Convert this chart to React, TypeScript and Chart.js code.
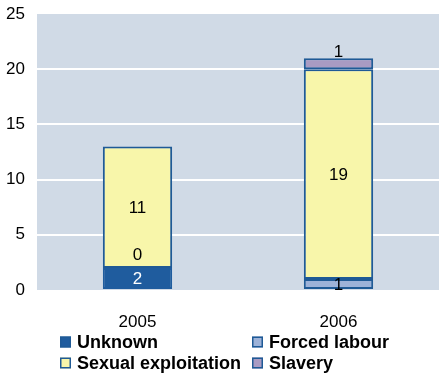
import React, { useEffect, useRef } from "react";
import { Chart, registerables } from "chart.js";

Chart.register(...registerables);

const categories = ["2005", "2006"];
const seriesNames = ["Unknown", "Forced labour", "Sexual exploitation", "Slavery"];
const unknownValues: (number | null)[] = [2, null];
const forcedLabourValues: (number | null)[] = [0, 1];
const sexualExploitationValues: (number | null)[] = [11, 19];
const slaveryValues: (number | null)[] = [null, 1];
const yTicks = [0, 5, 10, 15, 20, 25];

const FONT = "'Liberation Sans', Arial, sans-serif";
const BORDER = "#1f5a96";
const colors = ["#1f5c9e", "#9db2d8", "#f8f6aa", "#a99bc3"];
const labelColors = ["#ffffff", "#000000", "#000000", "#000000"];

const bgPlugin = {
  id: "plotBg",
  beforeDraw(chart: any) {
    const { ctx, chartArea } = chart;
    ctx.save();
    ctx.fillStyle = "#d0dae6";
    ctx.fillRect(chartArea.left, chartArea.top, chartArea.right - chartArea.left, chartArea.bottom - chartArea.top);
    ctx.restore();
  },
};

const labelPlugin = {
  id: "barLabels",
  afterDatasetsDraw(chart: any) {
    const { ctx } = chart;
    ctx.save();
    ctx.font = `17px ${FONT}`;
    ctx.textAlign = "center";
    const last = chart.data.datasets.length - 1;
    chart.data.datasets.forEach((ds: any, di: number) => {
      const meta = chart.getDatasetMeta(di);
      meta.data.forEach((el: any, i: number) => {
        const v = ds.data[i];
        if (v === null || v === undefined) return;
        ctx.fillStyle = labelColors[di];
        if (v === 0) {
          ctx.textBaseline = "bottom";
          ctx.fillText(String(v), el.x, el.y - 4);
        } else if (di === last) {
          ctx.textBaseline = "bottom";
          ctx.fillText(String(v), el.x, el.y + 3);
        } else {
          ctx.textBaseline = "middle";
          ctx.fillText(String(v), el.x, (el.y + el.base) / 2 + 1);
        }
      });
    });
    ctx.restore();
  },
};

const legendPlugin = {
  id: "gridLegend",
  afterDraw(chart: any) {
    const { ctx } = chart;
    const cols = [60, 252];
    const rows = [342, 363];
    ctx.save();
    ctx.font = `bold 18px ${FONT}`;
    ctx.textBaseline = "middle";
    ctx.textAlign = "left";
    seriesNames.forEach((name, i) => {
      const x = cols[i % 2];
      const y = rows[Math.floor(i / 2)];
      ctx.fillStyle = colors[i];
      ctx.fillRect(x, y - 5.5, 11, 11);
      ctx.strokeStyle = BORDER;
      ctx.lineWidth = 1.5;
      ctx.strokeRect(x + 0.75, y - 4.75, 9.5, 9.5);
      ctx.fillStyle = "#000000";
      ctx.fillText(name, x + 17, y + 1);
    });
    ctx.restore();
  },
};

export default function App() {
  const ref = useRef<HTMLCanvasElement>(null);
  useEffect(() => {
    document.body.style.margin = "0";
    const seriesData = [unknownValues, forcedLabourValues, sexualExploitationValues, slaveryValues];
    const chart = new Chart(ref.current!, {
      type: "bar",
      data: {
        labels: categories,
        datasets: seriesNames.map((name, i) => ({
          label: name,
          data: seriesData[i],
          backgroundColor: colors[i],
          borderColor: i === 0 ? colors[0] : BORDER,
          borderWidth: 2,
          borderSkipped: false,
          barPercentage: 0.345,
          categoryPercentage: 1,
        })),
      },
      options: {
        animation: false,
        responsive: false,
        maintainAspectRatio: false,
        layout: { padding: { top: 14, right: 4, left: 0, bottom: 42 } },
        plugins: { legend: { display: false }, tooltip: { enabled: false } },
        scales: {
          x: {
            stacked: true,
            grid: { display: false },
            border: { display: false },
            ticks: { font: { family: FONT, size: 17 }, color: "#000", padding: 14 },
            afterFit(scale: any) {
              scale.height = 45;
            },
          },
          y: {
            stacked: true,
            min: 0,
            max: 25,
            afterBuildTicks(scale: any) {
              scale.ticks = yTicks.map((v) => ({ value: v }));
            },
            grid: {
              color: (c: any) => (c.tick && (c.tick.value === 0 || c.tick.value === 25) ? "rgba(0,0,0,0)" : "#ffffff"),
              lineWidth: 2,
              drawTicks: false,
            },
            border: { display: false },
            ticks: { font: { family: FONT, size: 17 }, color: "#000", padding: 12 },
            afterFit(scale: any) {
              scale.width = 37;
              scale.paddingTop = 0;
              scale.paddingBottom = 0;
            },
          },
        },
      },
      plugins: [bgPlugin, labelPlugin, legendPlugin],
    });
    return () => chart.destroy();
  }, []);
  return (
    <div style={{ position: "absolute", left: 0, top: 0, width: 443, height: 377 }}>
      <canvas ref={ref} width={443} height={377} />
    </div>
  );
}
